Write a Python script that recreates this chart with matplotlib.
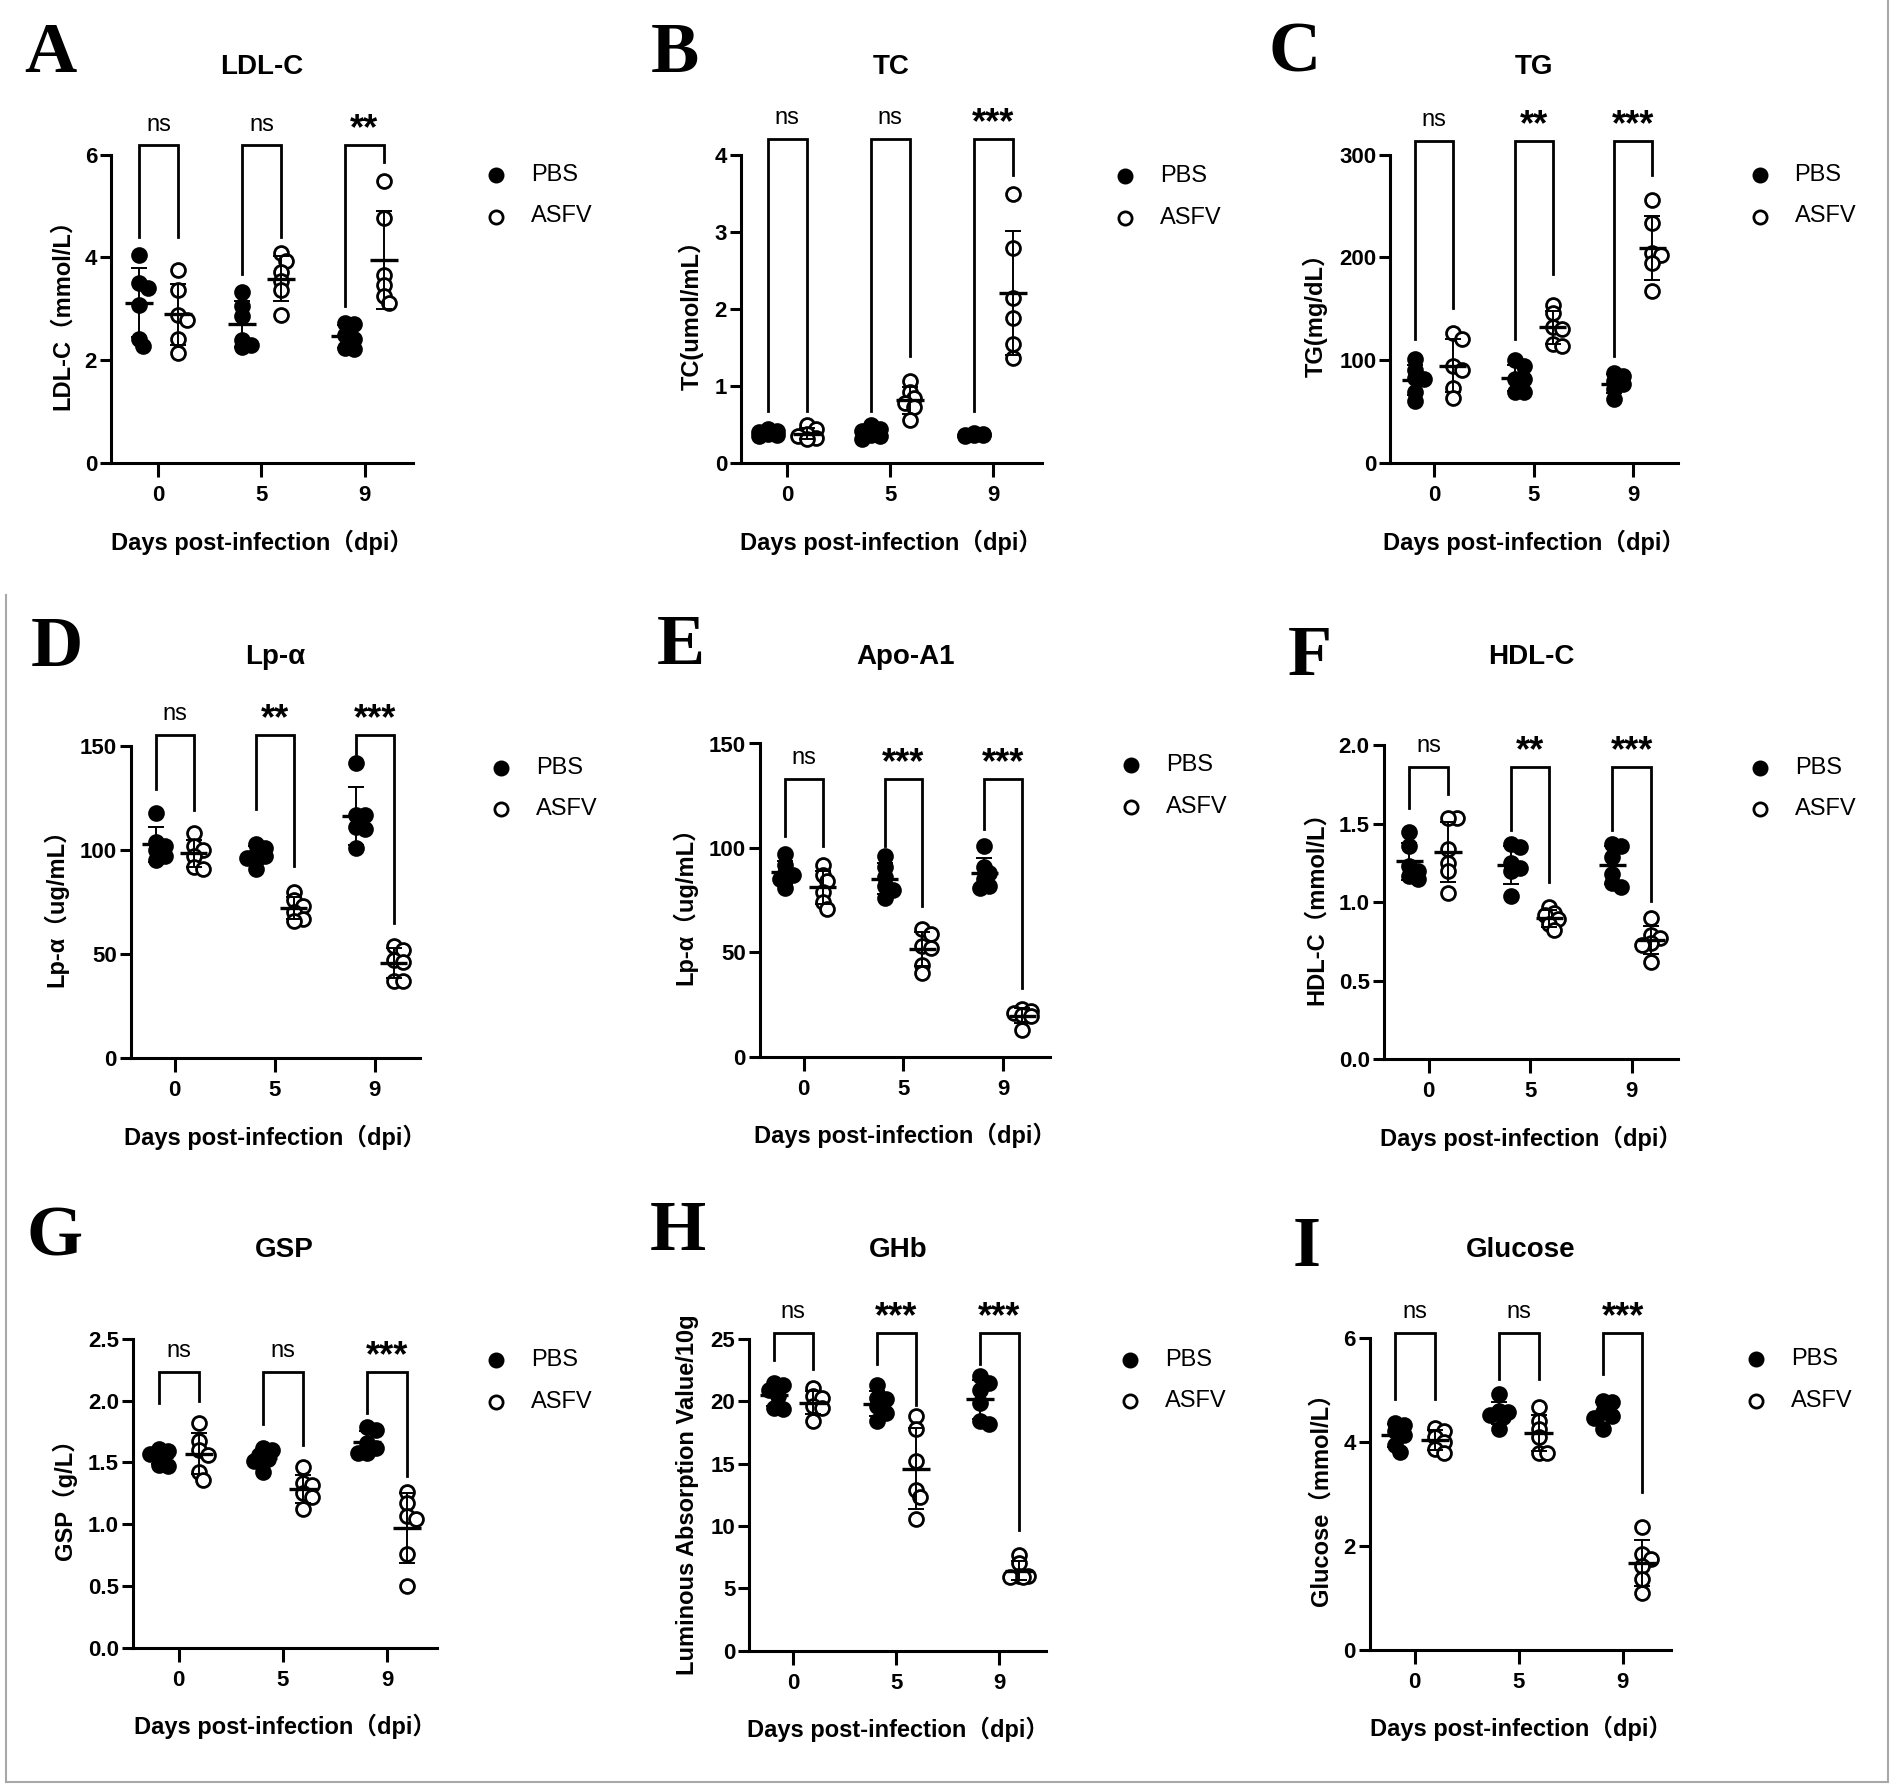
import numpy as np
import matplotlib
matplotlib.use('Agg')
import matplotlib.pyplot as plt
from matplotlib.lines import Line2D

plt.rcParams['font.family'] = ['Liberation Sans', 'Noto Sans CJK SC', 'DejaVu Sans']

W, H, DPI = 1902, 1791, 100

# ---------------- data ----------------
day_labels = ['0', '5', '9']
group_names = ['PBS', 'ASFV']

ldl_pbs = [[4.04, 3.50, 3.40, 3.07, 2.42, 2.28], [3.32, 3.06, 2.86, 2.40, 2.30, 2.25], [2.72, 2.70, 2.50, 2.42, 2.24, 2.21]]
ldl_asfv = [[3.76, 3.36, 2.89, 2.78, 2.42, 2.14], [4.08, 3.94, 3.72, 3.55, 3.36, 2.89], [5.48, 4.76, 3.65, 3.47, 3.25, 3.11]]
ldl_sig = ['ns', 'ns', '**']
ldl_bracket = [6.18, [4.40, 3.67, 3.05], [4.40, 4.40, 5.86]]

tc_pbs = [[0.44, 0.42, 0.40, 0.38, 0.36, 0.35], [0.49, 0.44, 0.42, 0.37, 0.35, 0.31], [0.39, 0.38, 0.37, 0.36, 0.36, 0.35]]
tc_asfv = [[0.50, 0.44, 0.38, 0.35, 0.32, 0.31], [1.07, 0.93, 0.84, 0.78, 0.73, 0.56], [3.50, 2.80, 2.15, 1.89, 1.55, 1.37]]
tc_sig = ['ns', 'ns', '***']
tc_bracket = [4.21, [0.68, 0.68, 0.68], [0.68, 1.39, 3.75]]

tg_pbs = [[101, 91, 83, 82, 69, 60], [100, 94, 82, 82, 69, 69], [88, 85, 80, 77, 72, 62]]
tg_asfv = [[127, 121, 94, 91, 73, 63], [154, 146, 132, 130, 116, 114], [256, 233, 204, 202, 195, 167]]
tg_sig = ['ns', '**', '***']
tg_bracket = [313.7, [121, 121, 104], [151, 184, 280]]

lpa_pbs = [[118, 104, 102, 100, 97, 95], [103, 101, 98, 97, 96, 91], [142, 117, 117, 111, 110, 101]]
lpa_asfv = [[108, 102, 100, 97, 92, 91], [80, 76, 73, 70, 67, 66], [54, 52, 47, 46, 37, 37]]
lpa_sig = ['ns', '**', '***']
lpa_bracket = [155.3, [129.4, 119.8, 146], [119.2, 92.5, 65]]

apo_pbs = [[97, 92, 88, 87, 85, 81], [96, 91, 86, 82, 80, 76], [101, 91, 88, 85, 82, 81]]
apo_asfv = [[92, 87, 84, 79, 74, 71], [61, 59, 53, 52, 44, 40], [23, 22, 21, 20, 19.5, 13]]
apo_sig = ['ns', '***', '***']
apo_bracket = [133.2, [105.7, 100.9, 109.3], [100.9, 72.1, 33.1]]

hdl_pbs = [[1.45, 1.36, 1.23, 1.20, 1.17, 1.15], [1.37, 1.35, 1.25, 1.22, 1.20, 1.04], [1.37, 1.36, 1.29, 1.18, 1.12, 1.10]]
hdl_asfv = [[1.54, 1.54, 1.34, 1.25, 1.20, 1.06], [0.97, 0.93, 0.92, 0.89, 0.86, 0.82], [0.90, 0.79, 0.77, 0.74, 0.73, 0.62]]
hdl_sig = ['ns', '**', '***']
hdl_bracket = [1.863, [1.60, 1.458, 1.458], [1.69, 1.127, 1.005]]

gsp_pbs = [[1.61, 1.59, 1.57, 1.55, 1.48, 1.47], [1.62, 1.60, 1.56, 1.53, 1.51, 1.42], [1.79, 1.76, 1.66, 1.62, 1.58, 1.58]]
gsp_asfv = [[1.82, 1.67, 1.60, 1.56, 1.42, 1.36], [1.46, 1.33, 1.32, 1.25, 1.22, 1.12], [1.26, 1.17, 1.07, 1.04, 0.76, 0.50]]
gsp_sig = ['ns', 'ns', '***']
gsp_bracket = [2.235, [1.98, 1.81, 1.90], [1.995, 1.64, 1.39]]

ghb_pbs = [[21.5, 21.3, 20.9, 20.4, 19.5, 19.4], [21.3, 20.3, 20.2, 19.6, 19.1, 18.4], [22.0, 21.5, 20.9, 19.9, 18.4, 18.2]]
ghb_asfv = [[21.1, 20.4, 20.3, 19.6, 19.5, 18.4], [18.8, 17.8, 15.2, 12.9, 12.3, 10.6], [7.7, 7.0, 6.0, 6.0, 5.9, 5.9]]
ghb_sig = ['ns', '***', '***']
ghb_bracket = [25.5, [23.3, 23.0, 23.0], [22.6, 19.7, 9.7]]

glu_pbs = [[4.36, 4.33, 4.20, 4.13, 3.94, 3.80], [4.91, 4.60, 4.58, 4.52, 4.48, 4.24], [4.78, 4.76, 4.58, 4.50, 4.46, 4.24]]
glu_asfv = [[4.27, 4.20, 4.09, 4.00, 3.86, 3.79], [4.67, 4.39, 4.24, 4.09, 3.79, 3.79], [2.36, 1.84, 1.75, 1.61, 1.35, 1.09]]
glu_sig = ['ns', 'ns', '***']
glu_bracket = [6.1, [4.82, 5.2, 5.31], [4.82, 5.2, 3.04]]

panel_letters = ['A', 'B', 'C', 'D', 'E', 'F', 'G', 'H', 'I']
panel_titles = ['LDL-C', 'TC', 'TG', 'Lp-α', 'Apo-A1', 'HDL-C', 'GSP', 'GHb', 'Glucose']
panel_ylabels = ['LDL-C（mmol/L）', 'TC(umol/mL）', 'TG(mg/dL）', 'Lp-α（ug/mL）', 'Lp-α（ug/mL）',
                 'HDL-C（mmol/L）', 'GSP（g/L）', 'Luminous Absorption Value/10g', 'Glucose（mmol/L）']
panel_yticks = [[0, 2, 4, 6], [0, 1, 2, 3, 4], [0, 100, 200, 300], [0, 50, 100, 150], [0, 50, 100, 150],
                [0.0, 0.5, 1.0, 1.5, 2.0], [0.0, 0.5, 1.0, 1.5, 2.0, 2.5], [0, 5, 10, 15, 20, 25], [0, 2, 4, 6]]
panel_yfmt = ['{:.0f}', '{:.0f}', '{:.0f}', '{:.0f}', '{:.0f}', '{:.1f}', '{:.1f}', '{:.0f}', '{:.0f}']
panel_pbs = [ldl_pbs, tc_pbs, tg_pbs, lpa_pbs, apo_pbs, hdl_pbs, gsp_pbs, ghb_pbs, glu_pbs]
panel_asfv = [ldl_asfv, tc_asfv, tg_asfv, lpa_asfv, apo_asfv, hdl_asfv, gsp_asfv, ghb_asfv, glu_asfv]
panel_sig = [ldl_sig, tc_sig, tg_sig, lpa_sig, apo_sig, hdl_sig, gsp_sig, ghb_sig, glu_sig]
panel_bracket = [ldl_bracket, tc_bracket, tg_bracket, lpa_bracket, apo_bracket, hdl_bracket, gsp_bracket,
                 ghb_bracket, glu_bracket]

# ---------------- layout (pixels) ----------------
# y-axis x, x-axis right end, top tick y, zero y, first x tick, last x tick
axes_px = [
    (111.0, 413.1, 154.6, 463.1, 158.4, 364.5),
    (741.0, 1041.5, 155.4, 463.1, 787.2, 993.3),
    (1390.2, 1678.4, 154.6, 463.1, 1434.0, 1633.4),
    (130.6, 420.4, 746.1, 1057.9, 174.7, 374.7),
    (759.8, 1050.4, 743.5, 1056.8, 803.5, 1003.5),
    (1383.6, 1678.4, 745.4, 1059.0, 1428.7, 1631.7),
    (132.7, 436.8, 1339.0, 1647.6, 178.8, 387.0),
    (749.2, 1046.4, 1339.0, 1650.8, 793.3, 999.4),
    (1369.7, 1671.4, 1337.8, 1649.6, 1414.8, 1622.7),
]
letter_px = [(24.5, 72), (650.4, 72), (1268, 72), (30.6, 666), (656.5, 664), (1287.8, 675),
             (26.5, 1256), (650, 1250), (1292.8, 1266)]
title_y = [66.6, 66.6, 66.6, 656.6, 656.6, 656.6, 1250, 1250, 1250]
legend_px = [(495.7, 174.6, 216.5), (1125.2, 175.7, 217.5), (1759.5, 174.6, 216.5),
             (501.3, 768.3, 809.0), (1131.3, 764.6, 807.1), (1760.3, 767.6, 809.0),
             (496.0, 1360.0, 1402.1), (1130.0, 1360.0, 1401.4), (1756.2, 1359.3, 1401.4)]

GROUP_OFF = 0.19
MARKER_D_PX = 14.0
LW_AX = 2.2


def fx(x):
    return x / W


def fy(y):
    return 1 - y / H


def swarm_offsets(vals, px_per_unit, d):
    """compact beeswarm offsets in pixels (points may overlap, as in the original)"""
    order = np.argsort(vals)[::-1]
    placed = []
    offs = np.zeros(len(vals))
    step = 0.32 * d
    cands = [0, 1, -1, 2, -2]
    thr = 0.55 * d
    for i in order:
        y = vals[i] * px_per_unit
        best, best_pen = 0.0, None
        for c in cands:
            x = c * step
            pen = sum(max(0.0, thr - np.hypot(x - px, y - py)) for px, py in placed)
            if best_pen is None or pen < best_pen - 1e-9:
                best, best_pen = x, pen
            if pen == 0:
                break
        placed.append((best, y))
        offs[i] = best
    return offs


fig = plt.figure(figsize=(W / DPI, H / DPI), dpi=DPI)
fig.patch.set_facecolor('white')

for k in range(9):
    x0, x1, yt, yb, t0, t2 = axes_px[k]
    ax = fig.add_axes([fx(x0), fy(yb), (x1 - x0) / W, (yb - yt) / H])
    sp = (t2 - t0) / 2.0
    ax.set_xlim((x0 - t0) / sp, 2 + (x1 - t2) / sp)
    yticks = panel_yticks[k]
    ymax = yticks[-1]
    ax.set_ylim(0, ymax)
    px_per_unit = (yb - yt) / ymax

    for spn in ['top', 'right']:
        ax.spines[spn].set_visible(False)
    for spn in ['left', 'bottom']:
        ax.spines[spn].set_linewidth(LW_AX)
    ax.set_xticks([0, 1, 2])
    ax.set_xticklabels(day_labels, fontsize=16, fontweight='bold')
    ax.set_yticks(yticks)
    ax.set_yticklabels([panel_yfmt[k].format(v) for v in yticks], fontsize=16, fontweight='bold')
    ax.tick_params(axis='x', length=10, width=LW_AX, pad=6)
    ax.tick_params(axis='y', length=8, width=LW_AX, pad=2)
    ax.set_ylabel(panel_ylabels[k], fontsize=17, fontweight='bold', labelpad=8)

    for g, (data, filled) in enumerate([(panel_pbs[k], True), (panel_asfv[k], False)]):
        sign = -1 if g == 0 else 1
        for d in range(3):
            vals = np.array(data[d], dtype=float)
            offs = swarm_offsets(vals, px_per_unit, MARKER_D_PX) / sp
            xc = d + sign * GROUP_OFF
            ax.plot(xc + offs, vals, linestyle='none', marker='o', markersize=10.0,
                    markerfacecolor='black' if filled else 'white', markeredgecolor='black',
                    markeredgewidth=2.0, zorder=3, clip_on=False)
            m = vals.mean()
            s = vals.std(ddof=1)
            ax.errorbar([xc], [m], yerr=[s], fmt='none', ecolor='black', elinewidth=1.4,
                        capsize=5.5, capthick=1.4, zorder=4, clip_on=False)
            ax.hlines(m, xc - 0.135, xc + 0.135, colors='black', linewidth=2.4, zorder=4)

    top, legL, legR = panel_bracket[k]
    for d in range(3):
        xl = d - GROUP_OFF
        xr = d + GROUP_OFF
        ax.plot([xl, xl, xr, xr], [legL[d], top, top, legR[d]], color='black', lw=2.0,
                solid_joinstyle='miter', clip_on=False, zorder=2)
        sig = panel_sig[k][d]
        if sig == 'ns':
            ax.annotate(sig, xy=(d, top), xytext=(0, 15), textcoords='offset points',
                        ha='center', va='center', fontsize=17, annotation_clip=False)
        else:
            ax.annotate(sig, xy=(d, top), xytext=(0, 11), textcoords='offset points',
                        ha='center', va='center', fontsize=26, fontweight='bold',
                        annotation_clip=False)

    cx = (x0 + x1) / 2
    fig.text(fx(cx), fy(title_y[k]), panel_titles[k], ha='center', va='center', fontsize=20,
             fontweight='bold')
    fig.text(fx(cx), fy(yb + 79), 'Days post-infection（dpi）', ha='center', va='center',
             fontsize=17, fontweight='bold')
    lx, ly = letter_px[k]
    fig.text(fx(lx), fy(ly), panel_letters[k], ha='left', va='baseline', fontsize=52,
             fontweight='bold', family='Liberation Serif')

    mx, py1, py2 = legend_px[k]
    for name, yy, fc in [(group_names[0], py1, 'black'), (group_names[1], py2, 'white')]:
        fig.add_artist(Line2D([fx(mx)], [fy(yy)], transform=fig.transFigure, marker='o',
                              markersize=9.5, markerfacecolor=fc, markeredgecolor='black',
                              markeredgewidth=2.0, linestyle='none'))
        fig.text(fx(mx + 35), fy(yy), name, ha='left', va='center', fontsize=17)

# outer frame lines (light grey)
fc = '#a8a8a8'
fig.add_artist(Line2D([fx(1888), fx(1888)], [fy(0), fy(1782)], transform=fig.transFigure, color=fc, lw=1.5))
fig.add_artist(Line2D([fx(6), fx(1888)], [fy(1782), fy(1782)], transform=fig.transFigure, color=fc, lw=1.5))
fig.add_artist(Line2D([fx(6), fx(6)], [fy(595), fy(1782)], transform=fig.transFigure, color=fc, lw=1.5))

fig.savefig('out.png', dpi=DPI, facecolor='white')
